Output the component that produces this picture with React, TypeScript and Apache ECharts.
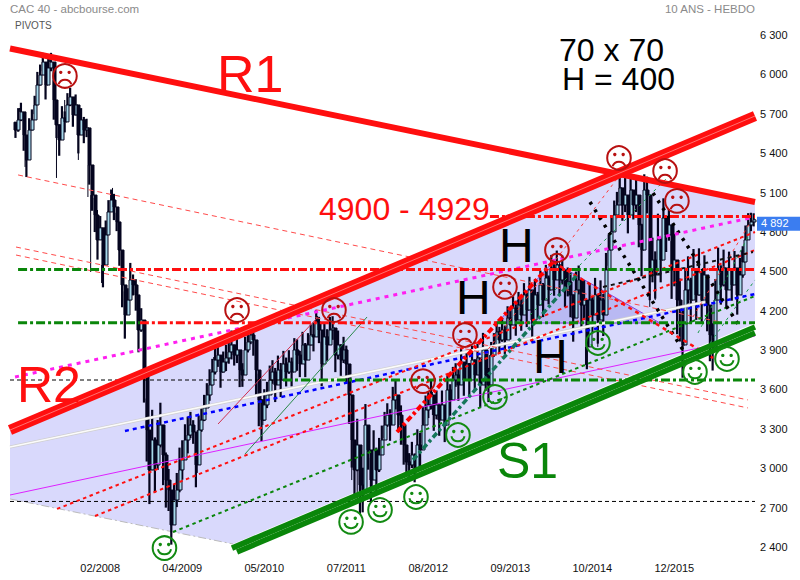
import React, { useEffect, useRef } from "react";
import * as echarts from "echarts";

// x axis is a running week number, y axis the CAC 40 level
const xTickWeeks = [66, 126, 186, 246, 306, 366, 426, 486];
const xTickLabels = ["02/2008", "04/2009", "05/2010", "07/2011", "08/2012", "09/2013", "10/2014", "12/2015"];
const yTicks = [2400, 2700, 3000, 3300, 3600, 3900, 4200, 4500, 4800, 5100, 5400, 5700, 6000, 6300];
const lastPrice = 4892;

const firstWeek = 4;
const weekStep = 2;
const closes = [
  5576, 5653, 5714, 5538, 5348, 5576, 5653, 5767, 5919, 5995, 6094, 5919, 6049, 6094, 5805, 5615, 5500, 5668, 5638, 5767,
  5828, 5691, 5767, 5538, 5653, 5576, 5592, 5310, 5081, 4929, 4739, 4831, 4548, 4777, 4952, 5043, 4990, 4876, 4662, 4396,
  4167, 4281, 4434, 4396, 4320, 4053, 4129, 3710, 3291, 2987, 3215, 3025, 3177, 3329, 3101, 2910, 2834, 2568, 2758, 2834,
  2987, 3063, 3215, 3253, 3329, 3276, 3025, 3291, 3367, 3459, 3558, 3634, 3733, 3824, 3862, 3733, 3809, 3840, 3886, 3939,
  3862, 3901, 3748, 3710, 3901, 3962, 4015, 3977, 3748, 3520, 3367, 3482, 3558, 3672, 3733, 3634, 3748, 3672, 3794, 3733,
  3809, 3733, 3901, 3862, 3794, 3939, 3824, 3939, 4015, 4000, 4114, 4053, 3794, 4000, 3939, 4053, 4068, 3862, 3939, 3824,
  3901, 3794, 3558, 3215, 2987, 3177, 2872, 2834, 3329, 3139, 2910, 3139, 2987, 3101, 3215, 3329, 3405, 3329, 3520, 3558,
  3405, 3329, 3177, 3048, 3025, 3101, 3003, 3177, 3139, 3329, 3444, 3482, 3558, 3405, 3482, 3367, 3482, 3329, 3596, 3520,
  3672, 3710, 3634, 3809, 3672, 3794, 3672, 3824, 3710, 3840, 3634, 3901, 3710, 3634, 3862, 3939, 4038, 3977, 4053, 3977,
  4144, 4091, 4220, 4129, 4243, 4167, 4320, 4205, 4358, 4129, 4320, 4243, 4396, 4281, 4449, 4358, 4525, 4434, 4548, 4434,
  4510, 4358, 4419, 4320, 4144, 4358, 4434, 4243, 4281, 3924, 4281, 4167, 4320, 4129, 4281, 4167, 4510, 4662, 4800, 4929,
  5005, 5135, 5005, 5081, 4929, 5119, 5005, 5081, 4853, 4662, 5119, 5081, 4510, 4586, 4472, 4739, 4586, 4906, 4777, 4853,
  4510, 4586, 4281, 4205, 3939, 4358, 4434, 4281, 4510, 4320, 4495, 4281, 4472, 4243, 4015, 3924, 4281, 4510, 4396, 4525,
  4358, 4510, 4396, 4525, 4320, 4472, 4571, 4739, 4853, 4876, 4892,
];
const swings = [
  60, 90, 70, 120, 130, 90, 80, 70, 100, 80, 70, 110, 80, 70, 150, 100, 120, 90, 80, 90,
  70, 90, 80, 140, 90, 100, 70, 150, 120, 130, 150, 90, 170, 110, 90, 80, 100, 70, 120, 170,
  180, 90, 130, 80, 120, 170, 90, 210, 240, 260, 230, 210, 190, 170, 230, 210, 160, 150, 120, 130,
  170, 150, 120, 140, 100, 90, 170, 110, 90, 100, 90, 120, 100, 110, 90, 120, 80, 100, 90, 110,
  80, 100, 130, 90, 100, 80, 70, 120, 190, 200, 160, 120, 100, 110, 90, 130, 110, 130, 100, 110,
  90, 110, 90, 120, 100, 100, 130, 90, 80, 110, 90, 100, 170, 110, 120, 100, 90, 130, 110, 120,
  100, 140, 220, 210, 190, 200, 220, 170, 160, 150, 170, 150, 170, 130, 110, 100, 90, 120, 100, 110,
  130, 150, 150, 110, 90, 100, 110, 120, 130, 140, 110, 100, 110, 120, 110, 120, 110, 130, 110, 120,
  100, 90, 120, 110, 120, 100, 130, 110, 120, 110, 170, 130, 120, 130, 100, 90, 80, 100, 90, 110,
  90, 110, 90, 120, 100, 120, 90, 130, 100, 170, 120, 100, 110, 130, 100, 110, 100, 120, 110, 120,
  110, 130, 110, 170, 180, 140, 110, 180, 150, 170, 130, 140, 130, 180, 150, 160, 130, 120, 120, 110,
  100, 110, 120, 130, 140, 120, 110, 130, 170, 200, 120, 140, 230, 170, 180, 200, 170, 150, 130, 120,
  220, 200, 260, 240, 250, 170, 180, 170, 160, 190, 180, 170, 150, 200, 200, 180, 160, 170, 150, 140,
  130, 140, 120, 130, 150, 130, 120, 110, 90, 70, 50,
];

const wickWeeks = [7, 11, 24, 26, 29, 34, 40, 44, 50, 57, 59, 67, 64, 75, 84, 88, 94, 102, 118, 110, 124, 130, 137, 149, 152, 170, 178, 185, 200, 210, 225, 228, 236, 250, 254, 258, 265, 280, 295, 309, 346, 351, 371, 393, 402, 412, 421, 430, 446, 466, 468, 472, 492, 514, 535];
const wickTips = [5744, 5295, 6125, 5843, 6117, 5211, 5805, 5858, 5348, 5066, 4495, 4411, 4967, 5135, 4000, 4548, 3924, 2834, 2507, 3428, 3101, 3383, 2964, 3847, 3916, 3657, 4053, 3329, 3824, 3924, 4160, 3710, 4114, 2910, 2758, 2720, 2834, 3596, 2972, 3581, 3939, 3611, 4281, 4510, 4571, 4114, 3787, 3924, 5211, 5188, 4229, 4281, 3885, 3962, 4662];

const channelArea = [[0, 3291], [444.8, 5241], [545, 5028], [545, 4106], [163.1, 2423], [0, 2766]];
const headArea = [[356.3, 4106], [397.2, 4571], [475.5, 4106]];

const r1Line = [[0, 6197], [545, 5028]];
const r2Line = [[0, 3291], [545, 5683]];
const s1UpperLine = [[162.4, 2392], [545, 4076]];
const s1LowerLine = [[166.1, 2362], [545, 4030]];
const channelBaseLine = [[0, 2766], [163.1, 2423]];

const pivot4917 = [[351.1, 4917], [545, 4917]];
const pivot4514GreenA = [[5.9, 4514], [79, 4514]];
const pivot4514RedA = [[79, 4514], [411, 4514]];
const pivot4514GreenB = [[411, 4514], [485, 4514]];
const pivot4514RedB = [[485, 4514], [545, 4514]];
const pivot4109GreenA = [[5.9, 4109], [95, 4109]];
const pivot4109Red = [[95, 4109], [356.3, 4109]];
const pivot4109GreenB = [[356.3, 4109], [545, 4109]];
const pivot3672Green = [[199.7, 3672], [545, 3672]];
const pivot3672Black = [[0, 3672], [199.7, 3672]];
const pivot2747Black = [[0, 2747], [545, 2747]];

const magentaDotted = [[3.7, 3695], [541.3, 4906]];
const magentaThin = [[0, 2796], [545, 4007]];
const paleLine = [[0, 3162], [508.4, 4266]];
const blueDotted = [[84.1, 3284], [545, 4327]];
const redDottedA = [[34.4, 2690], [545, 4799]];
const redDottedB = [[62.2, 2636], [545, 4662]];
const redRise = [[283.1, 3276], [397.2, 4571]];
const redFall = [[397.2, 4571], [514.3, 3840]];
const tealRise = [[294.8, 3063], [414.8, 4472]];
const greenDotted = [[119.2, 2514], [545, 4312]];
const thinGreenA = [[380.4, 4167], [482.8, 5234]];
const thinRedA = [[343.8, 3824], [446.2, 5234]];
const thinRedB = [[499.6, 4152], [541.3, 4868]];
const thinGreenB = [[503.3, 4030], [541.3, 4792]];
const thinGreenC = [[512.1, 3954], [545, 4434]];
const blackFallA = [[424.3, 5028], [492.3, 3901]];
const blackFallB = [[470.4, 5097], [534, 4076]];
const blackRise = [[433.8, 4381], [543.5, 4647]];
const dashRedA = [[5.9, 5234], [519.4, 4114]];
const dashRedB = [[4.4, 4685], [539.9, 3520]];
const dashRedC = [[4.4, 4624], [539.9, 3459]];
const crimsonThin = [[152.2, 3337], [224.6, 4144]];
const greenThin = [[171.9, 3108], [261.2, 4152]];

const sadWeeks = [40.2, 166.1, 237, 302.1, 332.8, 362.1, 400.1, 445.5, 479.2, 487.9];
const sadValues = [5988, 4205, 4205, 3664, 4015, 4381, 4662, 5363, 5264, 5036];
const happyWeeks = [113, 249.5, 270.7, 297, 327.7, 354.8, 430.1, 501.1, 524.5];
const happyValues = [2392, 2591, 2682, 2781, 3253, 3543, 3954, 3733, 3832];

const RED = "#ff0f0f";
const GREEN = "#0a860a";
const DARK = "#05051e";
const FONT = "'Liberation Sans', Arial, sans-serif";
const DASHDOT = [9, 3, 3, 3];
const DOTS = [4, 5];

const seg = (data: number[][], color: string, width: number, type: any = "solid", z = 5) => ({
  type: "line",
  data,
  z,
  clip: false,
  silent: true,
  symbol: "none",
  animation: false,
  lineStyle: { color, width, type, cap: "butt" },
});

const polygonSeries = (pts: number[][], fill: any, stroke: any, z: number) => ({
  type: "custom",
  z,
  silent: true,
  clip: false,
  data: [0],
  renderItem: (_: any, api: any) => ({
    type: "polygon",
    shape: { points: pts.map((p) => api.coord(p)) },
    style: { fill, stroke, lineWidth: 1 },
  }),
});

const faceSeries = (weeks: number[], values: number[], color: string, happy: boolean) => ({
  type: "custom",
  z: 8,
  silent: true,
  clip: false,
  data: weeks.map((w, i) => [w, values[i]]),
  renderItem: (_: any, api: any) => {
    const [cx, cy] = api.coord([api.value(0), api.value(1)]);
    const line = { stroke: color, fill: "none", lineWidth: 2 };
    return {
      type: "group",
      children: [
        { type: "circle", shape: { cx, cy, r: 11.8 }, style: line },
        { type: "circle", shape: { cx: cx - 4.2, cy: cy - 3.6, r: 1.7 }, style: { fill: color } },
        { type: "circle", shape: { cx: cx + 4.2, cy: cy - 3.6, r: 1.7 }, style: { fill: color } },
        happy
          ? { type: "arc", shape: { cx, cy: cy - 0.5, r: 6.8, startAngle: 0.25, endAngle: Math.PI - 0.25 }, style: line }
          : { type: "arc", shape: { cx, cy: cy + 10.5, r: 6.8, startAngle: Math.PI + 0.35, endAngle: 2 * Math.PI - 0.35 }, style: line },
      ],
    };
  },
});

const label = (text: string, x: number, y: number, fontSize: number, fill: string, textAlign = "left") => ({
  type: "text",
  x,
  y,
  z: 20,
  silent: true,
  style: { text, fontSize, fontFamily: FONT, fill, textAlign, textVerticalAlign: "middle" },
});

export default function App() {
  const ref = useRef<HTMLDivElement>(null);
  useEffect(() => {
    const chart = echarts.init(ref.current as HTMLDivElement, undefined, { renderer: "svg" });
    const candleData = closes.map((c, i) => [firstWeek + i * weekStep, i === 0 ? c + 60 : closes[i - 1], c]);
    const spanData = closes.map((c, i) => [firstWeek + i * weekStep, c + swings[i], c - swings[i]]);
    const wickData = wickWeeks.map((w, i) => {
      const idx = Math.max(0, Math.min(closes.length - 1, Math.round((w - firstWeek) / weekStep)));
      return [w, wickTips[i], closes[idx]];
    });
    const verticalBars = (data: number[][], width: number) => ({
      type: "custom",
      z: 3,
      silent: true,
      clip: false,
      data,
      renderItem: (_: any, api: any) => {
        const a = api.coord([api.value(0), api.value(1)]);
        const b = api.coord([api.value(0), api.value(2)]);
        return { type: "line", shape: { x1: a[0], y1: a[1], x2: b[0], y2: b[1] }, style: { stroke: DARK, lineWidth: width } };
      },
    });
    chart.setOption({
      animation: false,
      grid: { left: 10, width: 745, top: 35, height: 512, containLabel: false },
      graphic: [
        label("CAC 40 - abcbourse.com", 10, 9, 11.5, "#8a8a8a"),
        label("PIVOTS", 15, 25, 10, "#555555"),
        label("10 ANS - HEBDO", 755, 9, 11.5, "#8a8a8a", "right"),
        label("R1", 217, 74, 52, RED),
        label("R2", 17, 385, 50, RED),
        label("S1", 497, 461, 50, GREEN),
        label("H", 499, 245, 48, "#000000"),
        label("H", 456, 297, 48, "#000000"),
        label("H", 533, 356, 48, "#000000"),
        label("70 x 70", 559, 50, 32, "#000000"),
        label("H = 400", 562, 79, 32, "#000000"),
        label("4900 - 4929", 319, 209, 32, RED),
      ],
      xAxis: {
        type: "value",
        min: 0,
        max: 545,
        splitLine: { show: false },
        axisLine: { show: false },
        axisTick: { show: false, customValues: xTickWeeks },
        axisLabel: {
          customValues: xTickWeeks,
          margin: 15,
          fontSize: 11,
          fontFamily: FONT,
          color: "#111111",
          formatter: (v: number) => xTickLabels[xTickWeeks.indexOf(v)] ?? "",
        },
      },
      yAxis: {
        type: "value",
        position: "right",
        min: yTicks[0],
        max: yTicks[yTicks.length - 1],
        interval: 300,
        splitLine: { show: false },
        axisLine: { show: false },
        axisTick: { show: false },
        axisLabel: {
          margin: 5,
          fontSize: 11,
          fontFamily: FONT,
          color: "#111111",
          formatter: (v: number) => `${Math.floor(v / 1000)} ${String(v % 1000).padStart(3, "0")}`,
        },
      },
      series: [
        polygonSeries(channelArea, "#d9d9fc", "none", 1),
        polygonSeries(headArea, "#b9b9f3", "#8a3fe0", 2),
        verticalBars(wickData, 1),
        verticalBars(spanData, 2.2),
        {
          type: "custom",
          z: 3,
          silent: true,
          clip: false,
          data: candleData,
          renderItem: (_: any, api: any) => {
            const week = api.value(0);
            const a = api.coord([week, api.value(1)]);
            const b = api.coord([week, api.value(2)]);
            const up = api.value(2) >= api.value(1);
            return {
              type: "rect",
              shape: { x: Math.round(a[0]) - 1, y: Math.min(a[1], b[1]), width: 3, height: Math.abs(a[1] - b[1]) },
              style: { fill: up ? "#a6d8ea" : DARK, stroke: DARK, lineWidth: 1 },
            };
          },
        },
        seg(channelBaseLine, "#bbbbbb", 1, [8, 3, 2, 3], 2),
        seg(pivot3672Black, "#000000", 1, [4, 3], 4),
        seg(pivot2747Black, "#000000", 1, [4, 3], 4),
        seg(magentaThin, "#dd22ff", 1, "solid", 4),
        seg(paleLine, "#cfcfcf", 3, "solid", 4),
        seg(paleLine, "#fbfbfb", 1.6, "solid", 4),
        seg(dashRedA, "#ff4a4a", 1, [5, 4], 4),
        seg(dashRedB, "#ff4a4a", 1, [5, 4], 4),
        seg(dashRedC, "#ff4a4a", 1, [5, 4], 4),
        seg(crimsonThin, "#d0304e", 1, "solid", 4),
        seg(greenThin, "#2a8a4a", 1, "solid", 4),
        seg(thinGreenA, "#1a9a4a", 1, [3, 4], 4),
        seg(thinRedA, "#ff3a3a", 1, [3, 4], 4),
        seg(thinRedB, "#ff3a3a", 1, [3, 4], 4),
        seg(thinGreenB, "#1a9a4a", 1, [3, 4], 4),
        seg(thinGreenC, "#1a9a4a", 1, [3, 4], 4),
        seg(blueDotted, "#0000ff", 2.5, [4, 4]),
        seg(redDottedA, "#ff1010", 2, [3.5, 3.5]),
        seg(redDottedB, "#ff1010", 2, [3.5, 3.5]),
        seg(greenDotted, "#0a860a", 2, [3.5, 3.5]),
        seg(blackFallA, "#000000", 3.5, [3, 6]),
        seg(blackFallB, "#000000", 3.5, [3, 6]),
        seg(blackRise, "#111111", 2, [4, 4]),
        seg(redFall, "#ff1010", 2.5, [4, 4]),
        seg(redRise, "#ff0000", 4, [6, 3, 3, 3], 6),
        seg(tealRise, "#15765a", 3.5, [6, 3, 3, 3], 6),
        seg(magentaDotted, "#ff1ff0", 3, DOTS, 6),
        seg(pivot4917, RED, 3, DASHDOT, 6),
        seg(pivot4514RedA, RED, 3, DASHDOT, 6),
        seg(pivot4514RedB, RED, 3, DASHDOT, 6),
        seg(pivot4109Red, RED, 3, DASHDOT, 6),
        seg(pivot4514GreenA, GREEN, 3, DASHDOT, 6),
        seg(pivot4514GreenB, GREEN, 3, DASHDOT, 6),
        seg(pivot4109GreenA, GREEN, 3, DASHDOT, 6),
        seg(pivot4109GreenB, GREEN, 3, DASHDOT, 6),
        seg(pivot3672Green, GREEN, 3, DASHDOT, 6),
        seg(r1Line, RED, 6, "solid", 7),
        seg(r2Line, RED, 10.5, "solid", 7),
        seg(r2Line, "#ff8a8a", 0.8, "solid", 7),
        seg(s1UpperLine, GREEN, 5.6, "solid", 7),
        seg(s1LowerLine, GREEN, 5.6, "solid", 7),
        faceSeries(sadWeeks, sadValues, "#b81010", false),
        faceSeries(happyWeeks, happyValues, "#128a12", true),
        {
          type: "custom",
          z: 9,
          silent: true,
          clip: false,
          data: [[545, lastPrice]],
          renderItem: (_: any, api: any) => {
            const [x, y] = api.coord([api.value(0), api.value(1)]);
            return {
              type: "group",
              children: [
                { type: "rect", shape: { x: x + 2, y: y - 3, width: 43, height: 14 }, style: { fill: "#3b7df0" } },
                {
                  type: "text",
                  x: x + 6,
                  y: y + 3.5,
                  style: {
                    text: `${Math.floor(api.value(1) / 1000)} ${api.value(1) % 1000}`,
                    fontSize: 11,
                    fontFamily: FONT,
                    fill: "#ffffff",
                    textVerticalAlign: "middle",
                  },
                },
              ],
            };
          },
        },
      ],
    });
    return () => chart.dispose();
  }, []);
  return <div ref={ref} style={{ position: "absolute", left: 0, top: 0, width: 800, height: 580, background: "#ffffff" }} />;
}
